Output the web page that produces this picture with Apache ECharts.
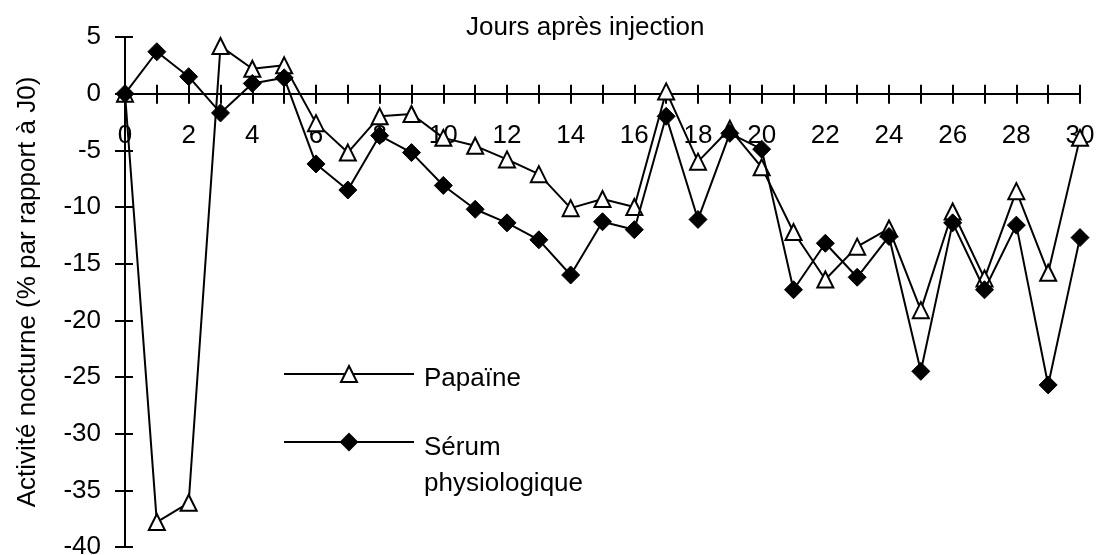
<!DOCTYPE html>
<html>
<head>
<meta charset="utf-8">
<script src="https://cdn.jsdelivr.net/npm/echarts@6/dist/echarts.min.js"></script>
<style>
  html, body { margin: 0; padding: 0; background: #fff; }
  #chart { width: 1096px; height: 555px; }
</style>
</head>
<body>
<div id="chart"></div>
<script>
// jours après injection
var days = ['0', '1', '2', '3', '4', '5', '6', '7', '8', '9', '10', '11', '12', '13', '14', '15',
  '16', '17', '18', '19', '20', '21', '22', '23', '24', '25', '26', '27', '28', '29', '30']
// activité nocturne, % par rapport à J0
var papaine = [0, -37.8, -36.1, 4.2, 2.2, 2.5, -2.6, -5.2, -2.0, -1.8, -3.9, -4.6, -5.8, -7.1, -10.1, -9.3,
  -10.0, 0.2, -6.0, -3.1, -6.5, -12.2, -16.4, -13.5, -11.9, -19.1, -10.4, -16.3, -8.6, -15.8, -3.9]
var serum = [0, 3.7, 1.5, -1.7, 0.9, 1.4, -6.2, -8.5, -3.7, -5.2, -8.1, -10.2, -11.4, -12.9, -16.0, -11.3,
  -12.0, -2.0, -11.1, -3.5, -4.9, -17.3, -13.2, -16.2, -12.6, -24.5, -11.4, -17.3, -11.6, -25.7, -12.7]
var yMin = -40
var yMax = 5
var yStep = 5

var font = 'Liberation Sans, Arial, sans-serif'
var fs = 26

// grille en pixels
var gridTop = 37
var gridBottom = 8
var gridH = 555 - gridTop - gridBottom
// l'axe des jours passe par y = 0
var zeroY = gridTop + gridH * (yMax - 0) / (yMax - yMin)
var xOffset = -(gridTop + gridH - zeroY)

var myChart = echarts.init(document.getElementById('chart'))

var lineStyle = { color: '#000', width: 2 }

var legendText = { fontFamily: font, fontSize: fs, color: '#000', lineHeight: 36, padding: [0, 0, 0, 5] }

var option = {
  animation: false,
  backgroundColor: '#fff',
  textStyle: { fontFamily: font, color: '#000' },
  title: {
    text: 'Jours après injection',
    left: 466,
    top: 15,
    padding: 0,
    textStyle: { fontFamily: font, fontSize: fs, fontWeight: 'normal', color: '#000' }
  },
  grid: {
    left: 125,
    right: 16,
    top: gridTop,
    bottom: gridBottom,
    containLabel: false,
    outerBoundsMode: 'none'
  },
  legend: [
    {
      data: ['Papaïne'],
      left: 283,
      top: 374 - 23,
      padding: 0,
      itemWidth: 130,
      itemHeight: 20,
      selectedMode: false,
      formatter: function (name) { return '{s| }\n{a|' + name + '}' },
      textStyle: { rich: { s: { height: 10, lineHeight: 10, fontSize: 2 }, a: legendText } }
    },
    {
      data: ['Sérum physiologique'],
      left: 283,
      top: 442 - 60,
      padding: 0,
      itemWidth: 130,
      itemHeight: 20,
      selectedMode: false,
      formatter: function () { return '{s| }\n{a|Sérum}\n{a|physiologique}' },
      textStyle: { rich: { s: { height: 48, lineHeight: 48, fontSize: 2 }, a: legendText } }
    }
  ],
  xAxis: [
    {
      type: 'category',
      data: days,
      boundaryGap: false,
      position: 'bottom',
      offset: xOffset,
      axisLine: { onZero: false, lineStyle: lineStyle },
      axisTick: { show: true, interval: 0, length: 10, lineStyle: lineStyle },
      axisLabel: { interval: 1, margin: 29, fontSize: fs, fontFamily: font, color: '#000' },
      splitLine: { show: false }
    },
    {
      // même axe, graduations vers le haut (traits qui croisent l'axe)
      type: 'category',
      data: days,
      boundaryGap: false,
      position: 'bottom',
      offset: xOffset,
      axisLine: { onZero: false, show: false },
      axisTick: { show: true, inside: true, interval: 0, length: 9, lineStyle: lineStyle },
      axisLabel: { show: false },
      splitLine: { show: false }
    }
  ],
  yAxis: [
    {
      type: 'value',
      min: yMin,
      max: yMax,
      interval: yStep,
      position: 'left',
      name: 'Activité nocturne (% par rapport à J0)',
      nameLocation: 'middle',
      nameGap: 84,
      nameMoveOverlap: false,
      nameTextStyle: { fontFamily: font, fontSize: fs, color: '#000' },
      axisLine: { show: true, onZero: false, lineStyle: lineStyle },
      axisTick: { show: true, length: 10, lineStyle: lineStyle },
      axisLabel: { margin: 24, fontSize: fs, fontFamily: font, color: '#000' },
      splitLine: { show: false }
    },
    {
      type: 'value',
      min: yMin,
      max: yMax,
      interval: yStep,
      position: 'left',
      axisLine: { show: false, onZero: false },
      axisTick: { show: true, inside: true, length: 8, lineStyle: lineStyle },
      axisLabel: { show: false },
      splitLine: { show: false }
    }
  ],
  series: [
    {
      name: 'Papaïne',
      type: 'line',
      data: papaine,
      symbol: 'triangle',
      symbolSize: 16,
      lineStyle: lineStyle,
      itemStyle: { color: '#fff', borderColor: '#000', borderWidth: 2 },
      z: 2
    },
    {
      name: 'Sérum physiologique',
      type: 'line',
      data: serum,
      symbol: 'diamond',
      symbolSize: 18,
      lineStyle: lineStyle,
      itemStyle: { color: '#000', borderColor: '#000', borderWidth: 1 },
      z: 3
    }
  ]
}

myChart.setOption(option)
window.addEventListener('resize', function () {
  myChart.resize()
})
</script>
</body>
</html>
